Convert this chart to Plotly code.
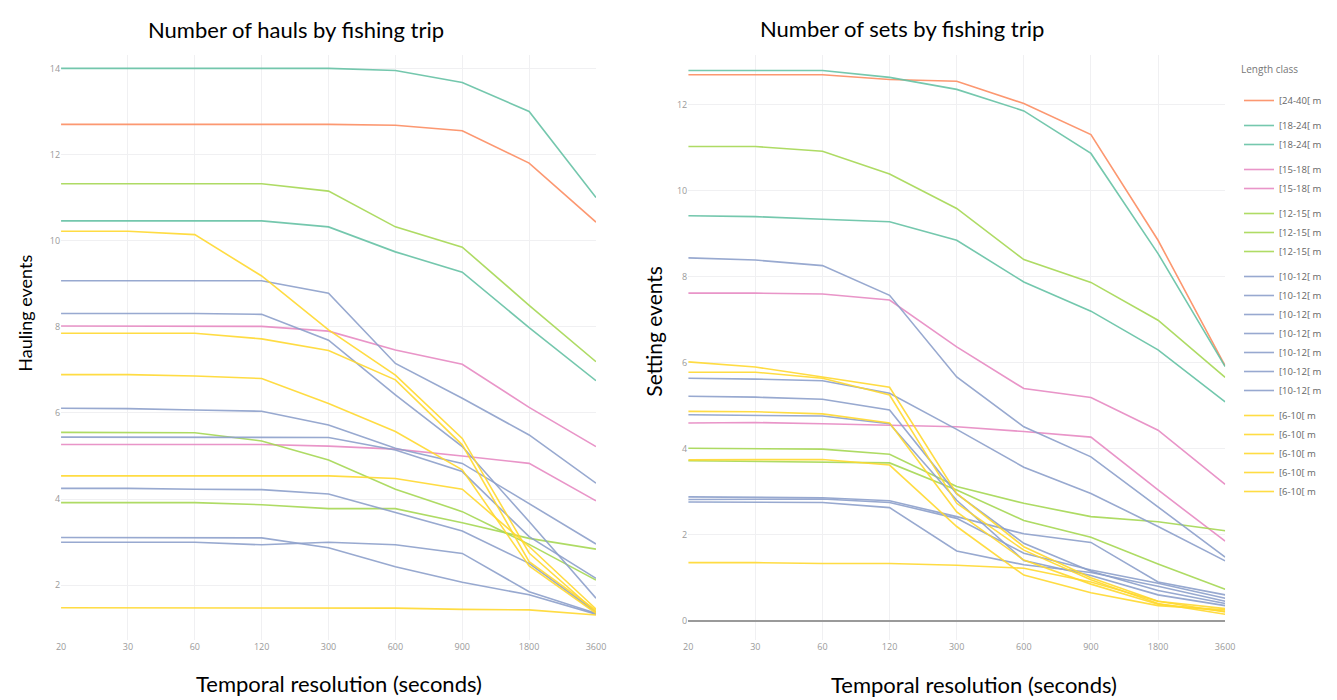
import plotly.graph_objects as go

# Temporal resolution (seconds), plotted as categories
resolutions = ["20", "30", "60", "120", "300", "600", "900", "1800", "3600"]

# Length classes and their colours
length_classes = ["[24-40[ m", "[18-24[ m", "[15-18[ m", "[12-15[ m", "[10-12[ m", "[6-10[ m"]
class_colors = ["#fc8d62", "#66c2a5", "#e78ac3", "#a6d854", "#8da0cb", "#ffd92f"]

# Hauling events per fishing trip, one list per vessel
hauls_24_40 = [
    [12.70, 12.70, 12.70, 12.70, 12.70, 12.68, 12.55, 11.80, 10.43],
]
hauls_18_24 = [
    [14.00, 14.00, 14.00, 14.00, 14.00, 13.95, 13.67, 13.00, 11.00],
    [10.46, 10.46, 10.46, 10.46, 10.32, 9.74, 9.27, 7.98, 6.75],
]
hauls_15_18 = [
    [8.02, 8.02, 8.02, 8.01, 7.90, 7.46, 7.13, 6.13, 5.22],
    [5.27, 5.27, 5.27, 5.27, 5.23, 5.16, 5.00, 4.83, 3.96],
]
hauls_12_15 = [
    [11.32, 11.32, 11.32, 11.32, 11.15, 10.32, 9.85, 8.50, 7.19],
    [5.55, 5.55, 5.54, 5.35, 4.91, 4.23, 3.71, 2.95, 2.12],
    [3.92, 3.92, 3.92, 3.87, 3.78, 3.78, 3.45, 3.09, 2.84],
]
hauls_10_12 = [
    [9.07, 9.07, 9.07, 9.07, 8.78, 7.15, 6.34, 5.49, 4.37],
    [8.31, 8.31, 8.31, 8.29, 7.69, 6.42, 5.22, 3.48, 1.70],
    [6.11, 6.10, 6.07, 6.04, 5.72, 5.18, 4.83, 3.90, 2.96],
    [5.44, 5.44, 5.44, 5.44, 5.43, 5.14, 4.64, 3.13, 2.16],
    [4.25, 4.25, 4.23, 4.22, 4.12, 3.69, 3.26, 2.51, 1.38],
    [3.11, 3.11, 3.11, 3.10, 2.87, 2.43, 2.07, 1.78, 1.33],
    [3.00, 3.00, 3.00, 2.94, 3.00, 2.94, 2.74, 1.85, 1.35],
]
hauls_6_10 = [
    [10.22, 10.22, 10.14, 9.18, 7.93, 6.88, 5.41, 2.75, 1.38],
    [7.85, 7.85, 7.85, 7.72, 7.45, 6.77, 5.26, 2.55, 1.42],
    [6.89, 6.89, 6.86, 6.80, 6.22, 5.57, 4.68, 2.45, 1.35],
    [4.54, 4.54, 4.54, 4.54, 4.54, 4.48, 4.23, 2.90, 1.45],
    [1.48, 1.48, 1.48, 1.48, 1.48, 1.47, 1.44, 1.43, 1.31],
]

# Setting events per fishing trip, one list per vessel
sets_24_40 = [
    [12.70, 12.70, 12.70, 12.59, 12.55, 12.03, 11.31, 8.85, 5.93],
]
sets_18_24 = [
    [12.80, 12.80, 12.80, 12.64, 12.36, 11.86, 10.87, 8.54, 5.91],
    [9.42, 9.40, 9.34, 9.28, 8.85, 7.88, 7.20, 6.30, 5.09],
]
sets_15_18 = [
    [7.62, 7.62, 7.60, 7.46, 6.37, 5.40, 5.19, 4.43, 3.17],
    [4.60, 4.61, 4.58, 4.55, 4.51, 4.40, 4.27, 3.04, 1.85],
]
sets_12_15 = [
    [11.03, 11.03, 10.92, 10.39, 9.59, 8.40, 7.87, 6.99, 5.66],
    [4.01, 4.00, 3.99, 3.87, 3.12, 2.73, 2.42, 2.30, 2.09],
    [3.72, 3.70, 3.68, 3.67, 3.04, 2.33, 1.94, 1.32, 0.73],
]
sets_10_12 = [
    [8.44, 8.39, 8.26, 7.57, 5.67, 4.51, 3.81, 2.65, 1.48],
    [5.64, 5.62, 5.58, 5.29, 4.45, 3.57, 2.96, 2.19, 1.39],
    [5.22, 5.20, 5.15, 4.90, 2.95, 1.80, 1.15, 0.70, 0.40],
    [4.79, 4.78, 4.76, 4.58, 2.80, 1.40, 1.05, 0.60, 0.35],
    [2.88, 2.87, 2.86, 2.79, 2.42, 2.02, 1.82, 0.90, 0.60],
    [2.82, 2.83, 2.83, 2.75, 2.38, 1.57, 1.18, 0.87, 0.52],
    [2.76, 2.75, 2.75, 2.63, 1.62, 1.30, 1.12, 0.80, 0.45],
]
sets_6_10 = [
    [6.02, 5.90, 5.67, 5.43, 2.96, 1.72, 1.00, 0.45, 0.20],
    [5.78, 5.78, 5.64, 5.25, 2.73, 1.64, 0.95, 0.40, 0.15],
    [4.87, 4.86, 4.81, 4.60, 2.53, 1.41, 0.85, 0.38, 0.22],
    [3.74, 3.75, 3.75, 3.62, 2.19, 1.06, 0.65, 0.35, 0.25],
    [1.35, 1.35, 1.33, 1.33, 1.29, 1.22, 0.90, 0.45, 0.28],
]

hauls_by_class = [hauls_24_40, hauls_18_24, hauls_15_18, hauls_12_15, hauls_10_12, hauls_6_10]
sets_by_class = [sets_24_40, sets_18_24, sets_15_18, sets_12_15, sets_10_12, sets_6_10]

fig = go.Figure()

for name, color, series_list in zip(length_classes, class_colors, hauls_by_class):
    for values in series_list:
        fig.add_trace(go.Scatter(
            x=resolutions, y=values, mode="lines", name=name,
            legendgroup=name, showlegend=False,
            line=dict(color=color, width=1.6), opacity=0.9,
            xaxis="x", yaxis="y",
        ))

for name, color, series_list in zip(length_classes, class_colors, sets_by_class):
    for values in series_list:
        fig.add_trace(go.Scatter(
            x=resolutions, y=values, mode="lines", name=name,
            legendgroup=name, showlegend=True,
            line=dict(color=color, width=1.6), opacity=0.9,
            xaxis="x2", yaxis="y2",
        ))

tick_font = dict(family="Open Sans", size=9, color="#9a9a9a")
grid = "#f0f0f2"
y_dom = [60 / 700, 645 / 700]

axis_common = dict(
    type="category", categoryorder="array", categoryarray=resolutions,
    range=[0, 8], showgrid=True, gridcolor=grid, gridwidth=1,
    showline=False, zeroline=False, tickfont=tick_font, ticks="",
)


def text_label(text, x, y, size, angle=0, yanchor="middle"):
    return dict(text=text, x=x / 1337, y=1 - y / 700, textangle=angle,
                xref="paper", yref="paper", showarrow=False,
                font=dict(family="Lato", size=size, color="#000000"),
                xanchor="center", yanchor=yanchor)


fig.update_layout(
    width=1337, height=700,
    margin=dict(l=0, r=0, t=0, b=0),
    paper_bgcolor="white", plot_bgcolor="white",
    font=dict(family="Open Sans"),
    xaxis=dict(domain=[56.7 / 1337, 597.7 / 1337], anchor="y", **axis_common),
    xaxis2=dict(domain=[691 / 1337, 1234 / 1337], anchor="y2", **axis_common),
    yaxis=dict(
        domain=y_dom, anchor="x", range=[0.73, 14.31], dtick=2,
        showgrid=True, gridcolor=grid, zeroline=False, tickfont=tick_font,
    ),
    yaxis2=dict(
        domain=y_dom, anchor="x2", range=[-0.45, 13.16], dtick=2,
        showgrid=True, gridcolor=grid, zeroline=True, zerolinecolor="#9a9a9a",
        zerolinewidth=1.5, tickfont=tick_font,
    ),
    legend=dict(
        x=1248 / 1337, y=1 - 60 / 700, xanchor="left", yanchor="top",
        title=dict(text="Length class<br> ", font=dict(family="Open Sans", size=10, color="#777777")),
        font=dict(family="Open Sans", size=9.5, color="#666666"),
        tracegroupgap=6, itemwidth=30, bgcolor="rgba(0,0,0,0)",
    ),
    annotations=[
        text_label("Number of hauls by fishing trip", 294, 30, 22),
        text_label("Number of sets by fishing trip", 907, 28, 22),
        text_label("Temporal resolution (seconds)", 338, 699, 22, yanchor="bottom"),
        text_label("Temporal resolution (seconds)", 980, 700, 22, yanchor="bottom"),
        text_label("Hauling events", 20, 313, 18, -90),
        text_label("Setting events", 655, 331, 21, -90),
    ],
)

fig.write_html("out.html")
